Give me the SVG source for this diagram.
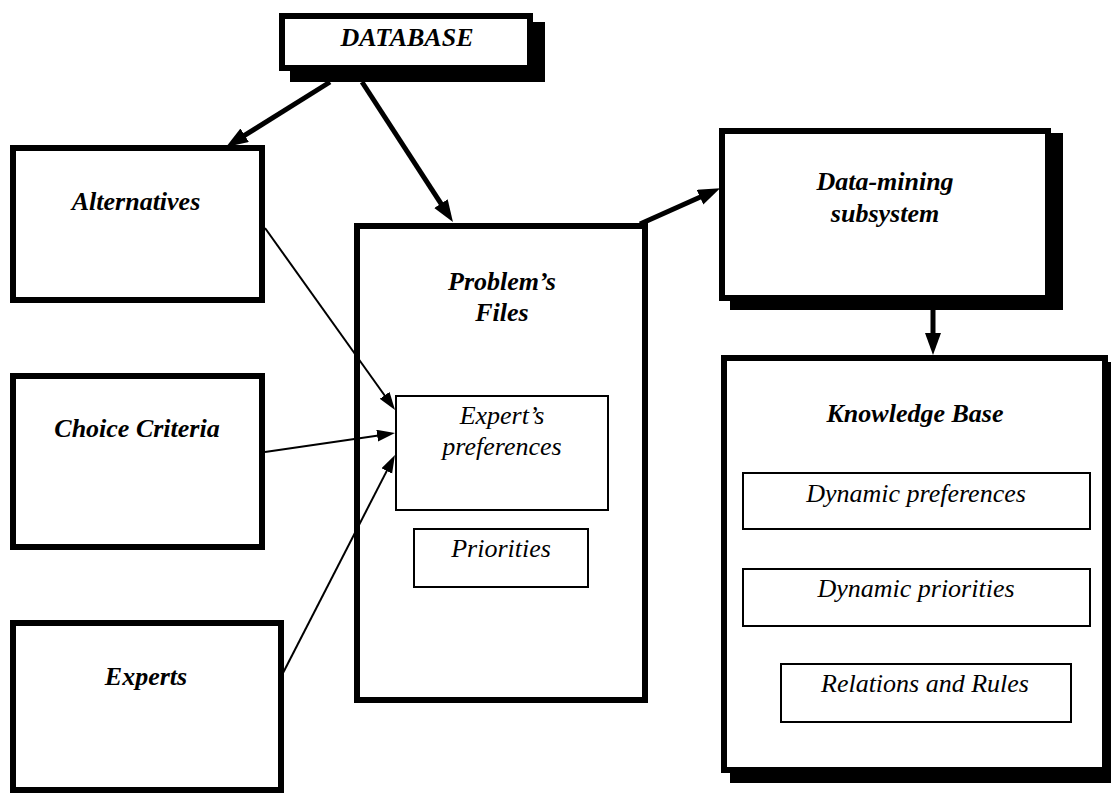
<svg xmlns="http://www.w3.org/2000/svg" width="1111" height="793" viewBox="0 0 1111 793">
<defs>
<style>
.box{fill:#fff;stroke:#000;stroke-width:6}
.inner{fill:#fff;stroke:#000;stroke-width:2}
.shadow{fill:#000}
text{font-family:'Liberation Serif','Times New Roman','DejaVu Serif',serif;font-size:26px;text-anchor:middle;fill:#000;font-style:italic}
.tb{font-weight:bold}
.thick{stroke:#000;stroke-width:5;fill:none;marker-end:url(#ah)}
.thin{stroke:#000;stroke-width:2;fill:none;marker-end:url(#at)}
</style>
<marker id="ah" markerUnits="userSpaceOnUse" markerWidth="22" markerHeight="18" refX="12" refY="8" orient="auto">
<path d="M0,0 L22,8 L0,16 z" fill="#000"/>
</marker>
<marker id="at" markerUnits="userSpaceOnUse" markerWidth="18" markerHeight="14" refX="10" refY="6" orient="auto">
<path d="M0,0 L18,6 L0,12 z" fill="#000"/>
</marker>
</defs>
<rect width="1111" height="793" fill="#fff"/>

<g id="database">
<rect class="shadow" x="290" y="22" width="255" height="60"/>
<rect class="box" x="282" y="16" width="248" height="52"/>
<text class="tb" x="407" y="46" font-family="Liberation Serif, serif">DATABASE</text>
</g>

<g id="alternatives">
<rect class="box" x="13" y="148" width="249" height="152"/>
<text class="tb" x="136" y="210" font-family="Liberation Serif, serif">Alternatives</text>
</g>

<g id="choice-criteria">
<rect class="box" x="13" y="376" width="249" height="171"/>
<text class="tb" x="137" y="437" font-family="Liberation Serif, serif">Choice Criteria</text>
</g>

<g id="experts">
<rect class="box" x="13" y="623" width="268" height="167"/>
<text class="tb" x="146" y="685" font-family="Liberation Serif, serif">Experts</text>
</g>

<g id="problems-files">
<rect class="box" x="357" y="226" width="288" height="474"/>
<text class="tb" x="502" y="290" font-family="Liberation Serif, serif">Problem’s</text>
<text class="tb" x="502" y="321" font-family="Liberation Serif, serif">Files</text>
<g id="experts-preferences">
<rect class="inner" x="396" y="396" width="212" height="114"/>
<text x="502" y="424" font-family="Liberation Serif, serif">Expert’s</text>
<text x="502" y="455" font-family="Liberation Serif, serif">preferences</text>
</g>
<g id="priorities">
<rect class="inner" x="414" y="529" width="174" height="58"/>
<text x="501" y="557" font-family="Liberation Serif, serif">Priorities</text>
</g>
</g>

<g id="data-mining">
<rect class="shadow" x="730" y="133" width="333" height="177"/>
<rect class="box" x="722" y="131" width="326" height="167"/>
<text class="tb" x="885" y="190" font-family="Liberation Serif, serif">Data-mining</text>
<text class="tb" x="885" y="222" font-family="Liberation Serif, serif">subsystem</text>
</g>

<g id="knowledge-base">
<rect class="shadow" x="730" y="362" width="381" height="421"/>
<rect class="box" x="724" y="358" width="381" height="412"/>
<text class="tb" x="915" y="422" font-family="Liberation Serif, serif">Knowledge Base</text>
<g id="dynamic-preferences">
<rect class="inner" x="743" y="473" width="347" height="56"/>
<text x="916" y="502" font-family="Liberation Serif, serif">Dynamic preferences</text>
</g>
<g id="dynamic-priorities">
<rect class="inner" x="743" y="569" width="347" height="57"/>
<text x="916" y="597" font-family="Liberation Serif, serif">Dynamic priorities</text>
</g>
<g id="relations-rules">
<rect class="inner" x="781" y="664" width="290" height="58"/>
<text x="925" y="692" font-family="Liberation Serif, serif">Relations and Rules</text>
</g>
</g>

<g id="connectors">
<path class="thick" d="M330,82 L234.5,141.7"/>
<path class="thick" d="M362,82 L447.5,213.6"/>
<path class="thick" d="M640,224 L711,192.3"/>
<path class="thick" d="M933,310 L933,345"/>
<path class="thin" d="M265,228 L390.4,403.5"/>
<path class="thin" d="M265,452 L387.1,434.2"/>
<path class="thin" d="M283,673 L391.3,462.1"/>
</g>
</svg>
